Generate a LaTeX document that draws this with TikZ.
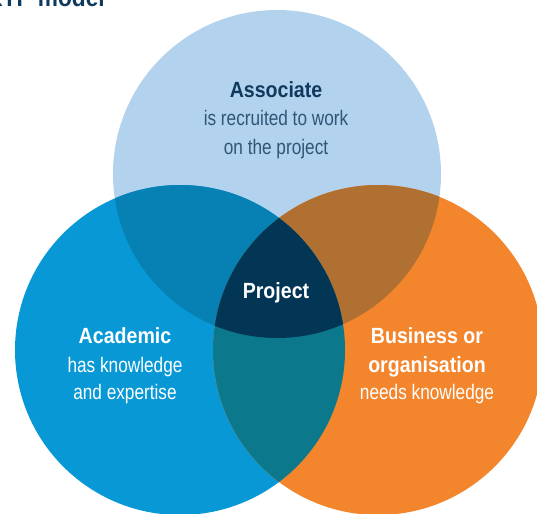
\documentclass[tikz,border=0pt]{standalone}
\usepackage{fontspec}
\setmainfont{Liberation Sans}[FakeStretch=0.89]
\newfontfamily\thinfont{Liberation Sans}[FakeStretch=0.82]
\usetikzlibrary{positioning}

\definecolor{assocblue}{HTML}{B2D2ED}
\definecolor{acadblue}{HTML}{0898D6}
\definecolor{busorange}{HTML}{F3852D}
\definecolor{overlapTL}{HTML}{0780B4}
\definecolor{overlapTR}{HTML}{B07032}
\definecolor{overlapLR}{HTML}{0C788C}
\definecolor{projectnavy}{HTML}{033554}
\definecolor{navytext}{HTML}{0F3A5E}
\definecolor{greytext}{HTML}{2F5678}

\tikzset {
    title text/.style={
        font=\bfseries\fontsize{25.5}{30}\selectfont,
        text=navytext,
        inner sep=0pt,
        anchor=base east,
    },
    head text/.style={
        font=\bfseries\fontsize{22}{26}\selectfont,
        inner sep=0pt,
        anchor=base, % Baselines
    },
    sub text/.style={
        font=\thinfont\fontsize{21}{27}\selectfont,
        inner sep=0pt,
        anchor=base,
    },
}

\begin{document}
\begin{tikzpicture}[x=1pt, y=-1pt]
    \useasboundingbox (0,0) rectangle (537,513);
    \clip (0,0) rectangle (537,513);
    \coordinate (topc) at (277,174);
    \coordinate (leftc) at (180,350);
    \coordinate (rightc) at (378,350);
    % the three circles
    \fill[assocblue] (topc) circle[radius=164pt];
    \fill[acadblue] (leftc) circle[radius=165pt];
    \fill[busorange] (rightc) circle[radius=165pt];
    % overlaps with the top circle
    \begin{scope}
        \clip (topc) circle[radius=164pt];
        \fill[overlapTL] (leftc) circle[radius=165pt];
        \fill[overlapTR] (rightc) circle[radius=165pt];
    \end{scope}
    % overlap of the two lower circles, then the middle
    \begin{scope}
        \clip (leftc) circle[radius=165pt];
        \fill[overlapLR] (rightc) circle[radius=165pt];
        \clip (topc) circle[radius=164pt];
        \fill[projectnavy] (rightc) circle[radius=165pt];
    \end{scope}

    \node[title text] (title) at (105,7) {KTP model};

    \node[head text, text=navytext] (assoc) at (276,98) {Associate};
    \node[sub text, text=greytext] (assocsubA) at (276,126) {is recruited to work};
    \node[sub text, text=greytext] (assocsubB) at (276,154) {on the project};

    \node[head text, text=white] (project) at (276,298) {Project};

    \node[head text, text=white] (academic) at (125,343) {Academic};
    \node[sub text, text=white] (academicsubA) at (125,372) {has knowledge};
    \node[sub text, text=white] (academicsubB) at (125,399) {and expertise};

    \node[head text, text=white] (business) at (427,343) {Business or};
    \node[head text, text=white] (organisation) at (427,372) {organisation};
    \node[sub text, text=white] (businesssub) at (427,399) {needs knowledge};
\end{tikzpicture}
\end{document}
